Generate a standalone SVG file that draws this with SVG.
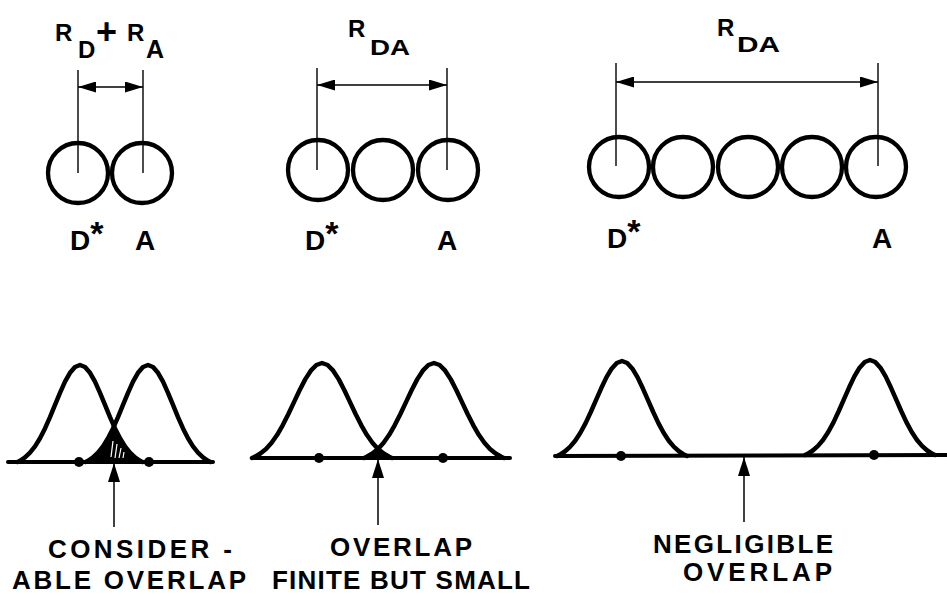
<svg xmlns="http://www.w3.org/2000/svg" width="947" height="596" viewBox="0 0 947 596">
<style>
  .atom{fill:none;stroke:#000;stroke-width:4.3}
  .ext{stroke:#000;stroke-width:1.4;fill:none}
  .dim{stroke:#000;stroke-width:1.5;fill:none;marker-start:url(#dh);marker-end:url(#dh)}
  .up{stroke:#000;stroke-width:1.5;fill:none;marker-end:url(#uh)}
  .bell{fill:none;stroke:#000;stroke-width:4.5;stroke-linejoin:round;stroke-linecap:round}
  .base{stroke:#000;stroke-width:4;stroke-linecap:round}
  .dot{fill:#000}
  .lbl{font-family:"Liberation Sans",Arial,sans-serif;font-weight:bold;fill:#000}
  .rr{font-family:"Liberation Sans",Arial,sans-serif;font-weight:bold;fill:#000;font-size:24px}
  .cap{font-family:"Liberation Sans",Arial,sans-serif;font-weight:bold;font-size:26px;fill:#000}
  .hatch{stroke:#fff;stroke-width:1.2}
</style>
<defs>
  <marker id="dh" markerUnits="userSpaceOnUse" markerWidth="18" markerHeight="11" refX="18" refY="5.5" orient="auto-start-reverse">
    <path d="M0,0 L18,5.5 L0,11 Z" fill="#000"/>
  </marker>
  <marker id="uh" markerUnits="userSpaceOnUse" markerWidth="19" markerHeight="12" refX="19" refY="6" orient="auto">
    <path d="M0,0 L19,6 L0,12 Z" fill="#000"/>
  </marker>
  <clipPath id="clip1">
    <path d="M17.5,462 l2.5,-1.2 5,-3.4 5,-4.7 5,-6.3 5,-8.1 5,-9.9 5,-11.3 5,-12.2 5,-12.1 5,-11.1 5,-8.9 5,-5.8 5,-2 5,2 5,5.8 5,8.9 5,11.1 5,12.1 5,12.2 5,11.3 5,9.9 5,8.1 5,6.3 5,4.7 5,3.4 2.5,1.2 Z"/>
  </clipPath>
  <clipPath id="clip2">
    <path d="M252,458 l2.8,-1.2 5.6,-3.3 5.6,-4.6 5.6,-6.2 5.6,-7.9 5.6,-9.7 5.6,-11.1 5.6,-11.9 5.6,-11.8 5.6,-10.9 5.6,-8.7 5.6,-5.7 5.6,-2 5.6,2 5.6,5.7 5.6,8.7 5.6,10.9 5.6,11.8 5.6,11.9 5.6,11.1 5.6,9.7 5.6,7.9 5.6,6.2 5.6,4.6 5.6,3.3 2.8,1.2 Z"/>
  </clipPath>
</defs>
<rect width="947" height="596" fill="#fff"/>

<!-- Panel 1 top: contact -->
<g id="top1">
  <circle class="atom" cx="78" cy="173" r="30"/>
  <circle class="atom" cx="142" cy="173" r="30"/>
  <line class="ext" x1="78" y1="70" x2="78" y2="173"/>
  <line class="ext" x1="143" y1="70" x2="143" y2="173"/>
  <text class="rr" x="55" y="41">R</text>
  <text class="lbl" x="78" y="58" style="font-size:24px">D</text>
  <text class="lbl" x="96" y="44" style="font-size:36px">+</text>
  <text class="rr" x="127" y="41">R</text>
  <text class="lbl" x="146" y="58" style="font-size:25px">A</text>
  <text class="lbl" x="70" y="250" style="font-size:28px">D<tspan style="font-size:34px" dy="-5">*</tspan></text>
  <text class="lbl" x="135" y="250" style="font-size:28px">A</text>
</g>

<!-- Panel 2 top -->
<g id="top2">
  <circle class="atom" cx="318" cy="170" r="30"/>
  <circle class="atom" cx="383" cy="170" r="30"/>
  <circle class="atom" cx="448" cy="170" r="30"/>
  <line class="ext" x1="317" y1="68" x2="317" y2="170"/>
  <line class="ext" x1="447" y1="68" x2="447" y2="170"/>
  <text class="rr" x="348" y="37">R</text>
  <text class="lbl" x="370" y="55" style="font-size:22px" textLength="40" lengthAdjust="spacingAndGlyphs">DA</text>
  <text class="lbl" x="305" y="250" style="font-size:28px">D<tspan style="font-size:34px" dy="-5">*</tspan></text>
  <text class="lbl" x="437" y="250" style="font-size:28px">A</text>
</g>

<!-- Panel 3 top -->
<g id="top3">
  <circle class="atom" cx="619" cy="167" r="30"/>
  <circle class="atom" cx="683" cy="167" r="30"/>
  <circle class="atom" cx="748" cy="167" r="30"/>
  <circle class="atom" cx="812" cy="167" r="30"/>
  <circle class="atom" cx="876" cy="167" r="30"/>
  <line class="ext" x1="616" y1="63" x2="616" y2="166"/>
  <line class="ext" x1="878" y1="63" x2="878" y2="166"/>
  <text class="rr" x="717" y="36">R</text>
  <text class="lbl" x="737" y="52" style="font-size:22px" textLength="43" lengthAdjust="spacingAndGlyphs">DA</text>
  <text class="lbl" x="607" y="248" style="font-size:28px">D<tspan style="font-size:34px" dy="-5">*</tspan></text>
  <text class="lbl" x="872" y="248" style="font-size:28px">A</text>
</g>

<!-- Bottom panel 1: considerable overlap -->
<g id="bottom1">
  <path fill="#000" clip-path="url(#clip1)" d="M85.5,462 l2.5,-1.2 5,-3.4 5,-4.7 5,-6.3 5,-8.1 5,-9.9 5,-11.3 5,-12.2 5,-12.1 5,-11.1 5,-8.9 5,-5.8 5,-2 5,2 5,5.8 5,8.9 5,11.1 5,12.1 5,12.2 5,11.3 5,9.9 5,8.1 5,6.3 5,4.7 5,3.4 2.5,1.2 Z"/>
  <line class="hatch" x1="111" y1="457" x2="113" y2="441"/>
  <line class="hatch" x1="115" y1="458" x2="117" y2="444"/>
  <line class="hatch" x1="119" y1="458" x2="121" y2="448"/>
  <line class="hatch" x1="123" y1="458" x2="124" y2="452"/>
  <line class="base" x1="8" y1="462" x2="213" y2="462"/>
  <path class="bell" d="M17.5,462 l2.5,-1.2 5,-3.4 5,-4.7 5,-6.3 5,-8.1 5,-9.9 5,-11.3 5,-12.2 5,-12.1 5,-11.1 5,-8.9 5,-5.8 5,-2 5,2 5,5.8 5,8.9 5,11.1 5,12.1 5,12.2 5,11.3 5,9.9 5,8.1 5,6.3 5,4.7 5,3.4 2.5,1.2"/>
  <path class="bell" d="M85.5,462 l2.5,-1.2 5,-3.4 5,-4.7 5,-6.3 5,-8.1 5,-9.9 5,-11.3 5,-12.2 5,-12.1 5,-11.1 5,-8.9 5,-5.8 5,-2 5,2 5,5.8 5,8.9 5,11.1 5,12.1 5,12.2 5,11.3 5,9.9 5,8.1 5,6.3 5,4.7 5,3.4 2.5,1.2"/>
  <circle class="dot" cx="79" cy="462" r="5"/>
  <circle class="dot" cx="149" cy="462" r="5"/>
  <text class="cap" x="48" y="558" textLength="184" lengthAdjust="spacing">CONSIDER -</text>
  <text class="cap" x="12" y="589" textLength="234" lengthAdjust="spacing">ABLE OVERLAP</text>
</g>

<!-- Bottom panel 2: finite but small overlap -->
<g id="bottom2">
  <path fill="#000" clip-path="url(#clip2)" d="M364,458 l2.8,-1.2 5.6,-3.3 5.6,-4.6 5.6,-6.2 5.6,-7.9 5.6,-9.7 5.6,-11.1 5.6,-11.9 5.6,-11.8 5.6,-10.9 5.6,-8.7 5.6,-5.7 5.6,-2 5.6,2 5.6,5.7 5.6,8.7 5.6,10.9 5.6,11.8 5.6,11.9 5.6,11.1 5.6,9.7 5.6,7.9 5.6,6.2 5.6,4.6 5.6,3.3 2.8,1.2 Z"/>
  <line class="base" x1="254" y1="458" x2="510" y2="458"/>
  <path class="bell" d="M252,458 l2.8,-1.2 5.6,-3.3 5.6,-4.6 5.6,-6.2 5.6,-7.9 5.6,-9.7 5.6,-11.1 5.6,-11.9 5.6,-11.8 5.6,-10.9 5.6,-8.7 5.6,-5.7 5.6,-2 5.6,2 5.6,5.7 5.6,8.7 5.6,10.9 5.6,11.8 5.6,11.9 5.6,11.1 5.6,9.7 5.6,7.9 5.6,6.2 5.6,4.6 5.6,3.3 2.8,1.2"/>
  <path class="bell" d="M364,458 l2.8,-1.2 5.6,-3.3 5.6,-4.6 5.6,-6.2 5.6,-7.9 5.6,-9.7 5.6,-11.1 5.6,-11.9 5.6,-11.8 5.6,-10.9 5.6,-8.7 5.6,-5.7 5.6,-2 5.6,2 5.6,5.7 5.6,8.7 5.6,10.9 5.6,11.8 5.6,11.9 5.6,11.1 5.6,9.7 5.6,7.9 5.6,6.2 5.6,4.6 5.6,3.3 2.8,1.2"/>
  <circle class="dot" cx="319" cy="458" r="5"/>
  <circle class="dot" cx="443" cy="458" r="5"/>
  <text class="cap" x="330" y="556" textLength="142" lengthAdjust="spacing">OVERLAP</text>
  <text class="cap" x="272" y="589" textLength="258" lengthAdjust="spacing">FINITE BUT SMALL</text>
</g>

<!-- Bottom panel 3: negligible overlap -->
<g id="bottom3">
  <line class="base" x1="555" y1="456" x2="947" y2="455"/>
  <path class="bell" d="M557,456 l2.6,-1.2 5.2,-3.3 5.2,-4.6 5.2,-6.2 5.2,-7.9 5.2,-9.7 5.2,-11.1 5.2,-11.9 5.2,-11.8 5.2,-10.9 5.2,-8.7 5.2,-5.7 5.2,-2 5.2,2 5.2,5.7 5.2,8.7 5.2,10.9 5.2,11.8 5.2,11.9 5.2,11.1 5.2,9.7 5.2,7.9 5.2,6.2 5.2,4.6 5.2,3.3 2.6,1.2"/>
  <path class="bell" d="M805,455 l2.6,-1.2 5.2,-3.3 5.2,-4.6 5.2,-6.2 5.2,-7.9 5.2,-9.7 5.2,-11.1 5.2,-11.9 5.2,-11.8 5.2,-10.9 5.2,-8.7 5.2,-5.7 5.2,-2 5.2,2 5.2,5.7 5.2,8.7 5.2,10.9 5.2,11.8 5.2,11.9 5.2,11.1 5.2,9.7 5.2,7.9 5.2,6.2 5.2,4.6 5.2,3.3 2.6,1.2"/>
  <circle class="dot" cx="621" cy="456" r="5"/>
  <circle class="dot" cx="874" cy="455" r="5"/>
  <text class="cap" x="653" y="553" textLength="180" lengthAdjust="spacing">NEGLIGIBLE</text>
  <text class="cap" x="683" y="581" textLength="149" lengthAdjust="spacing">OVERLAP</text>
</g>

<!-- Connectors: dimension arrows and pointer arrows -->
<g id="connectors">
  <line class="dim" x1="78" y1="87" x2="143" y2="87"/>
  <line class="dim" x1="317" y1="85" x2="447" y2="85"/>
  <line class="dim" x1="616" y1="82" x2="878" y2="82"/>
  <line class="up" x1="114" y1="527" x2="114" y2="463"/>
  <line class="up" x1="378" y1="525" x2="378" y2="459"/>
  <line class="up" x1="744" y1="522" x2="744" y2="457"/>
</g>
</svg>
